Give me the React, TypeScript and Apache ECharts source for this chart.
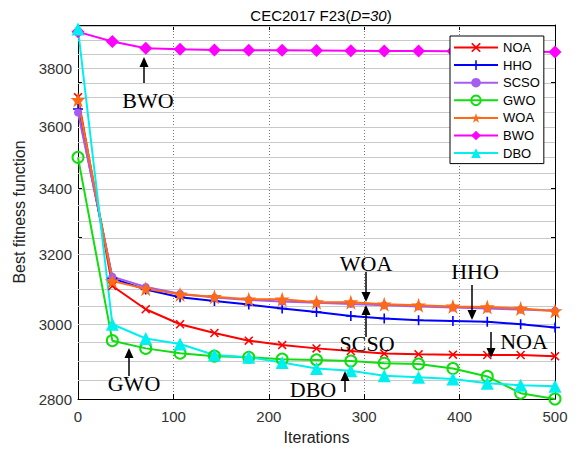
import React, { useEffect, useRef } from "react";
import * as echarts from "echarts";

const iterations = [0, 36, 71, 107, 143, 179, 214, 250, 286, 321, 357, 393, 429, 464, 500];
const noa = [3700, 3108, 3042, 3000, 2976, 2955, 2943, 2934, 2927, 2920, 2918, 2917, 2916, 2916, 2913];
const hho = [3660, 3130, 3098, 3076, 3065, 3055, 3044, 3034, 3023, 3016, 3011, 3009, 3007, 3000, 2991];
const scso = [3648, 3135, 3105, 3086, 3075, 3068, 3064, 3060, 3057, 3053, 3050, 3047, 3044, 3041, 3038];
const gwo = [3500, 2955, 2934, 2921, 2913, 2910, 2905, 2903, 2900, 2894, 2892, 2880, 2859, 2815, 2800];
const woa = [3691, 3122, 3100, 3084, 3077, 3070, 3070, 3062, 3062, 3056, 3053, 3050, 3048, 3044, 3037];
const bwo = [3930, 3895, 3871, 3867, 3865, 3864, 3864, 3863, 3862, 3861, 3861, 3860, 3860, 3859, 3858];
const dbo = [3940, 3000, 2961, 2946, 2916, 2910, 2896, 2880, 2874, 2861, 2857, 2852, 2841, 2836, 2833];

const xRange = [0, 500];
const yRange = [2800, 3955];
const yTickLabels = [2800, 3000, 3200, 3400, 3600, 3800];
const yMinorTicks = [2800, 2850, 2900, 2950, 3000, 3050, 3100, 3150, 3200, 3250, 3300, 3350, 3400, 3450, 3500, 3550, 3600, 3650, 3700, 3750, 3800, 3850, 3900, 3950];
const yGridLines = [2850, 2900, 2950, 3000, 3050, 3100, 3150, 3200, 3250, 3300, 3350, 3400, 3450, 3500, 3550, 3600, 3650, 3700, 3750, 3800, 3850, 3900, 3950];

const SYM_X = "path://M1.2,0 L5,3.8 L8.8,0 L10,1.2 L6.2,5 L10,8.8 L8.8,10 L5,6.2 L1.2,10 L0,8.8 L3.8,5 L0,1.2 Z";
const SYM_PLUS = "path://M4.2,0 L5.8,0 L5.8,4.2 L10,4.2 L10,5.8 L5.8,5.8 L5.8,10 L4.2,10 L4.2,5.8 L0,5.8 L0,4.2 L4.2,4.2 Z";
const SYM_STAR = "path://M10,0 L12.245,6.91 L19.51,6.91 L13.63,11.18 L15.88,18.09 L10,13.82 L4.12,18.09 L6.37,11.18 L0.49,6.91 L7.755,6.91 Z";

const SANS = "Arial, 'Liberation Sans', Helvetica, sans-serif";
const SERIF = "'Times New Roman', 'Liberation Serif', serif";

const GRID_TOP = 25;
const GRID_BOTTOM = 50;
const CHART_H = 450;

function mk(name: string, vals: number[], color: string, symbol: string, size: number, hollow = false) {
  return {
    name,
    type: "line",
    data: iterations.map((x, i) => [x, vals[i]]),
    symbol,
    symbolSize: size,
    showSymbol: true,
    lineStyle: { color, width: 2 },
    itemStyle: hollow
      ? { color: "rgba(255,255,255,0)", borderColor: color, borderWidth: 2 }
      : { color, borderColor: color, borderWidth: 0 },
    color,
    z: 3,
  };
}

function arrow(x: number, tail: number, tip: number) {
  const up = tip < tail;
  const h = 10;
  const base = up ? tip + h : tip - h;
  return [
    { type: "line", shape: { x1: x, y1: tail, x2: x, y2: base }, style: { stroke: "#000", lineWidth: 1.5 }, z: 10 },
    { type: "polygon", shape: { points: [[x, tip], [x - 4.5, base], [x + 4.5, base]] }, style: { fill: "#000" }, z: 10 },
  ];
}

function label(text: string, x: number, y: number) {
  return {
    type: "text",
    x,
    y,
    z: 10,
    style: { text, fontSize: 22, fontFamily: SERIF, fill: "#000", align: "center", verticalAlign: "middle" },
  };
}

export default function App() {
  const ref = useRef<HTMLDivElement>(null);
  useEffect(() => {
    document.body.style.margin = "0";
    const chart = echarts.init(ref.current!, null, { renderer: "svg" });
    const axisLine = { show: true, onZero: false, lineStyle: { color: "#000", width: 1 } };
    const annotations: any[] = [
      ...arrow(144, 83, 57),
      label("BWO", 148, 100),
      ...arrow(129, 376, 348),
      label("GWO", 134, 383),
      ...arrow(345, 392, 371),
      label("DBO", 313, 389),
      ...arrow(366, 272, 302),
      label("WOA", 366, 263),
      ...arrow(366, 337, 305),
      label("SCSO", 367, 343),
      ...arrow(472, 285, 320),
      label("HHO", 475, 271),
      ...arrow(491, 332, 358),
      label("NOA", 524, 341),
    ];
    const option: any = {
      animation: false,
      backgroundColor: "#fff",
      title: {
        text: "CEC2017 F23({i|D=30})",
        left: 316,
        textAlign: "center",
        top: 3,
        textStyle: {
          fontSize: 15,
          fontWeight: "normal",
          fontFamily: SANS,
          color: "#000",
          rich: { i: { fontSize: 15, fontStyle: "italic", fontFamily: SANS, color: "#000" } },
        },
      },
      grid: { left: 78, right: 23, top: GRID_TOP, bottom: GRID_BOTTOM, containLabel: false },
      legend: {
        orient: "vertical",
        left: 450,
        top: 36,
        data: ["NOA", "HHO", "SCSO", "GWO", "WOA", "BWO", "DBO"],
        backgroundColor: "#fff",
        borderColor: "#000",
        borderWidth: 1,
        padding: [5, 4, 4, 3],
        itemGap: 4.6,
        itemWidth: 44,
        itemHeight: 12,
        textStyle: { fontSize: 13, fontFamily: SANS, color: "#000", lineHeight: 12 },
      },
      xAxis: [
        {
          type: "value",
          min: xRange[0],
          max: xRange[1],
          interval: 100,
          position: "bottom",
          name: "Iterations",
          nameLocation: "middle",
          nameGap: 30,
          nameTextStyle: { fontSize: 16, fontFamily: SANS, color: "#222" },
          axisLine,
          axisTick: { show: true, inside: true, length: 5, lineStyle: { color: "#000" } },
          axisLabel: { fontSize: 15, fontFamily: SANS, color: "#333", margin: 10 },
          splitLine: { show: true, lineStyle: { color: "#777", type: [1, 2], width: 1 } },
        },
        {
          type: "value",
          min: xRange[0],
          max: xRange[1],
          interval: 100,
          position: "top",
          axisLine,
          axisTick: { show: true, inside: true, length: 5, lineStyle: { color: "#000" } },
          axisLabel: { show: false },
          splitLine: { show: false },
        },
      ],
      yAxis: [
        {
          type: "log",
          logBase: 10,
          min: yRange[0],
          max: yRange[1],
          position: "left",
          name: "Best fitness function",
          nameLocation: "middle",
          nameGap: 32,
          nameTextStyle: { fontSize: 16, fontFamily: SANS, color: "#222" },
          axisLine,
          axisTick: { show: true, inside: true, length: 4, customValues: yMinorTicks, lineStyle: { color: "#000" } },
          axisLabel: {
            fontSize: 15,
            fontFamily: SANS,
            color: "#333",
            margin: 6,
            customValues: yTickLabels,
            formatter: (v: number) => String(Math.round(v)),
          },
          splitLine: { show: false },
        },
        {
          type: "log",
          logBase: 10,
          min: yRange[0],
          max: yRange[1],
          position: "right",
          axisLine,
          axisTick: { show: true, inside: true, length: 4, customValues: yMinorTicks, lineStyle: { color: "#000" } },
          axisLabel: { show: false },
          splitLine: { show: false },
        },
      ],
      series: [
        mk("NOA", noa, "#ff0000", SYM_X, 9),
        mk("HHO", hho, "#0000ff", SYM_PLUS, 10),
        mk("SCSO", scso, "#a65cf0", "circle", 8),
        mk("GWO", gwo, "#11dd11", "circle", 11, true),
        mk("WOA", woa, "#ff6a13", SYM_STAR, 15),
        mk("BWO", bwo, "#ff00ff", "diamond", 13),
        mk("DBO", dbo, "#00f0f0", "triangle", 13),
      ],
      graphic: { elements: annotations },
    };
    chart.setOption(option);

    // horizontal grid lines at the minor tick values of the log y-axis
    const top = GRID_TOP;
    const bottom = CHART_H - GRID_BOTTOM;
    const lo = Math.log10(yRange[0]);
    const hi = Math.log10(yRange[1]);
    let xa = chart.convertToPixel({ xAxisIndex: 0 }, xRange[0]) as any;
    let xb = chart.convertToPixel({ xAxisIndex: 0 }, xRange[1]) as any;
    if (!isFinite(xa)) xa = 78;
    if (!isFinite(xb)) xb = 555;
    const gridEls = yGridLines.map((v) => {
      let py = chart.convertToPixel({ yAxisIndex: 0 }, v) as any;
      if (typeof py !== "number" || !isFinite(py) || py < top - 1 || py > bottom + 1) {
        py = bottom - ((Math.log10(v) - lo) / (hi - lo)) * (bottom - top);
      }
      const y = Math.round(py) + 0.5;
      return {
        type: "rect",
        silent: true,
        z: 1,
        shape: { x: xa, y: Math.round(py), width: xb - xa, height: 1 },
        style: { fill: "#c9c9c9" },
      };
    });
    chart.setOption({ graphic: { elements: [...annotations, ...gridEls] } });
    return () => chart.dispose();
  }, []);
  return <div ref={ref} style={{ width: 578, height: 450 }} />;
}
